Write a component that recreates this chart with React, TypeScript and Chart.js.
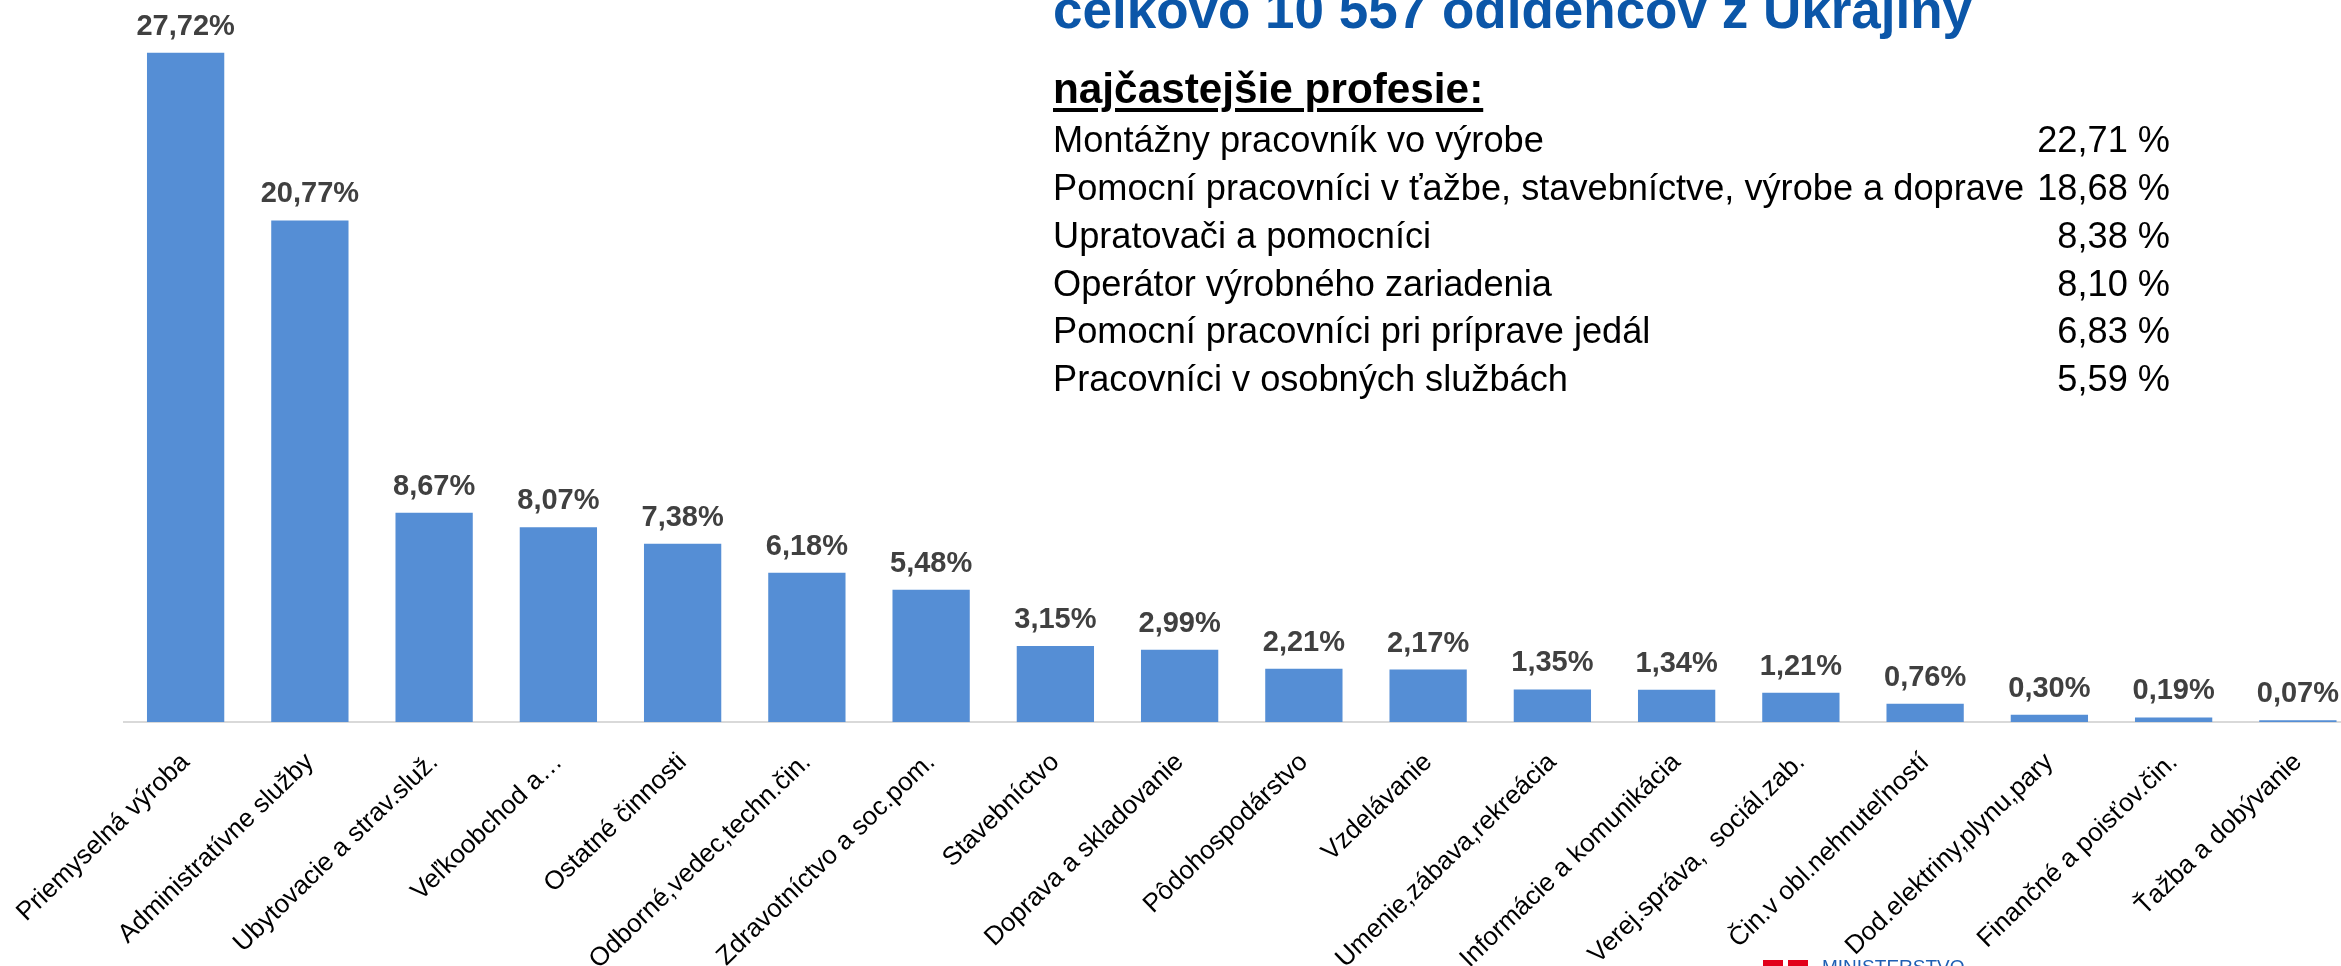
import React, { useEffect, useRef } from 'react';
import { Chart, registerables } from 'chart.js';

Chart.register(...registerables);

const categories: string[] = [
  'Priemyselná výroba',
  'Administratívne služby',
  'Ubytovacie a strav.služ.',
  'Veľkoobchod a…',
  'Ostatné činnosti',
  'Odborné,vedec,techn.čin.',
  'Zdravotníctvo a soc.pom.',
  'Stavebníctvo',
  'Doprava a skladovanie',
  'Pôdohospodárstvo',
  'Vzdelávanie',
  'Umenie,zábava,rekreácia',
  'Informácie a komunikácia',
  'Verej.správa,  sociál.zab.',
  'Čin.v obl.nehnuteľností',
  'Dod.elektriny,plynu,pary',
  'Finančné a poisťov.čin.',
  'Ťažba a dobývanie',
];

const shares: number[] = [
  27.72, 20.77, 8.67, 8.07, 7.38, 6.18, 5.48, 3.15, 2.99, 2.21, 2.17, 1.35, 1.34, 1.21, 0.76, 0.3, 0.19, 0.07,
];

const titleText = 'celkovo 10 557 odídencov z Ukrajiny';
const subtitleText = 'najčastejšie profesie:';

const professions: string[] = [
  'Montážny pracovník vo výrobe',
  'Pomocní pracovníci v ťažbe, stavebníctve, výrobe a doprave',
  'Upratovači a pomocníci',
  'Operátor výrobného zariadenia',
  'Pomocní pracovníci pri príprave jedál',
  'Pracovníci v osobných službách',
];

const professionShares: number[] = [22.71, 18.68, 8.38, 8.1, 6.83, 5.59];

const fmt = (v: number) => v.toFixed(2).replace('.', ',');

const FONT = '"Liberation Sans", Arial, sans-serif';

const valueLabels = {
  id: 'valueLabels',
  afterDatasetsDraw(chart: any) {
    const { ctx } = chart;
    const meta = chart.getDatasetMeta(0);
    ctx.save();
    ctx.font = 'bold 29px "Liberation Sans"';
    ctx.fillStyle = '#404040';
    ctx.textAlign = 'center';
    ctx.textBaseline = 'alphabetic';
    meta.data.forEach((bar: any, i: number) => {
      ctx.fillText(fmt(shares[i]) + '%', bar.x, bar.y - 18);
    });
    ctx.restore();
  },
};

export default function App() {
  const canvasRef = useRef<HTMLCanvasElement | null>(null);

  useEffect(() => {
    if (!canvasRef.current) return;
    const chart = new Chart(canvasRef.current, {
      type: 'bar',
      data: {
        labels: categories,
        datasets: [
          {
            data: shares,
            backgroundColor: '#558ED5',
            borderWidth: 0,
            barPercentage: 0.622,
            categoryPercentage: 1,
          },
        ],
      },
      options: {
        animation: false,
        responsive: false,
        maintainAspectRatio: false,
        layout: { padding: { left: 123.5, right: 0, top: 0, bottom: 0 } },
        plugins: { legend: { display: false }, tooltip: { enabled: false } },
        scales: {
          x: {
            grid: { display: false, drawTicks: false },
            border: { display: true, color: '#d9d9d9', width: 2 },
            ticks: {
              autoSkip: false,
              minRotation: 44,
              maxRotation: 44,
              padding: 25,
              color: '#000000',
              font: { family: 'Liberation Sans', size: 26 },
            },
            afterFit: (s: any) => {
              s.height = 244;
              s.paddingLeft = 0;
              s.paddingRight = 0;
            },
          },
          y: { display: false, min: 0, max: 29.9 },
        },
      },
      plugins: [valueLabels],
    });
    return () => chart.destroy();
  }, []);

  const rowBase = (i: number) => 152.8 + 47.8 * i;
  const listSize = 36.2;

  return (
    <div
      style={{
        position: 'fixed',
        left: 0,
        top: 0,
        width: 2341,
        height: 966,
        overflow: 'hidden',
        background: '#ffffff',
        fontFamily: FONT,
      }}
    >
      <canvas
        ref={canvasRef}
        width={2360}
        height={966}
        style={{ position: 'absolute', left: 0, top: 0, width: 2360, height: 966 }}
      />
      <div
        style={{
          position: 'absolute',
          left: 1053,
          top: 28.3 - 0.8465 * 53,
          fontSize: 53,
          lineHeight: 1,
          fontWeight: 'bold',
          color: '#0b56a8',
          whiteSpace: 'nowrap',
        }}
      >
        {titleText}
      </div>
      <div
        style={{
          position: 'absolute',
          left: 1053,
          top: 103.5 - 0.8465 * 42.3,
          fontSize: 42.3,
          lineHeight: 1,
          fontWeight: 'bold',
          color: '#000000',
          whiteSpace: 'nowrap',
          textDecoration: 'underline',
          textDecorationThickness: '4px',
          textUnderlineOffset: '4.5px',
        }}
      >
        {subtitleText}
      </div>
      {professions.map((p, i) => (
        <div
          key={'p' + i}
          style={{
            position: 'absolute',
            left: 1053,
            top: rowBase(i) - 0.8465 * listSize,
            fontSize: listSize,
            lineHeight: 1,
            color: '#000000',
            whiteSpace: 'nowrap',
          }}
        >
          {p}
        </div>
      ))}
      {professionShares.map((v, i) => (
        <div
          key={'v' + i}
          style={{
            position: 'absolute',
            left: 1870,
            width: 300,
            textAlign: 'right',
            top: rowBase(i) - 0.8465 * listSize,
            fontSize: listSize,
            lineHeight: 1,
            color: '#000000',
            whiteSpace: 'nowrap',
          }}
        >
          {fmt(v) + ' %'}
        </div>
      ))}
      <div
        style={{ position: 'absolute', left: 1763, top: 960, width: 45, height: 10, background: '#e2001a' }}
      />
      <div style={{ position: 'absolute', left: 1783, top: 960, width: 5, height: 6, background: '#ffffff' }} />
      <div
        style={{
          position: 'absolute',
          left: 1822,
          top: 972.6 - 0.8465 * 19,
          fontSize: 19,
          lineHeight: 1,
          color: '#1f5fb4',
          whiteSpace: 'nowrap',
        }}
      >
        MINISTERSTVO
      </div>
    </div>
  );
}
